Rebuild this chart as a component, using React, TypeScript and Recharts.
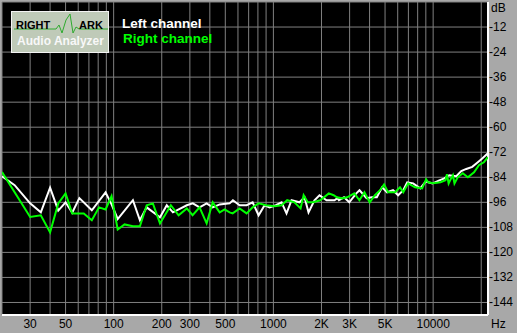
import React from 'react';
import { LineChart, Line, CartesianGrid, XAxis, YAxis, ReferenceLine } from 'recharts';

// frequency (Hz) / level (dB) pairs
const leftFreq = [20, 24, 30, 35, 40, 45, 50, 55, 61, 73, 89, 97, 106, 132, 146, 161, 195, 215, 235, 287, 313, 345, 382, 417, 461, 532, 558, 614, 680, 741, 808, 881, 946, 1037, 1125, 1208, 1299, 1457, 1566, 1659, 1808, 1943, 2150, 2412, 2518, 2571, 2770, 2985, 3305, 3460, 3830, 4130, 4440, 4790, 5150, 5610, 6040, 6500, 6880, 7500, 8300, 9000, 9880, 10930, 11746, 12619, 13960, 15000, 16120, 17570, 18880, 20290, 22000];
const leftDb = [-83.5, -87.8, -96.5, -100.8, -89, -100, -96, -101, -94, -99.8, -91.2, -97, -104, -95, -104.6, -98.4, -103.2, -97.4, -100.8, -97.4, -96.5, -98.4, -96.5, -98.4, -97, -96.5, -95, -97.4, -97.4, -96, -102.2, -97.4, -98.4, -97.4, -96, -101.3, -95, -96, -93.6, -100.8, -95, -92.6, -95, -95, -94, -95, -93.6, -96, -91.7, -90.2, -94, -93.6, -93.6, -88.8, -91.2, -90.2, -92.6, -90.2, -86.4, -86.9, -89.3, -86, -87, -85.5, -84.5, -83, -83.5, -81, -80, -79, -77, -75, -72.5];

const rightFreq = [20, 30, 35, 40, 45, 50, 55, 65, 73, 81, 89, 97, 106, 117, 132, 146, 161, 176, 195, 228, 255, 287, 312, 345, 382, 417, 461, 495, 532, 556, 614, 680, 741, 808, 900, 1017, 1125, 1220, 1354, 1480, 1546, 1640, 1772, 1965, 2222, 2384, 2496, 2691, 2898, 3211, 3456, 3714, 4010, 4320, 4650, 4930, 5220, 5780, 6200, 6500, 6980, 7700, 8530, 9040, 9310, 10030, 11110, 11940, 12200, 12500, 12860, 13300, 13600, 14250, 15330, 16500, 18030, 19340, 20770, 22000];
const rightDb = [-81.5, -103, -102.2, -110.4, -96.5, -91.7, -101.3, -101.3, -104.6, -98.4, -99.4, -93, -109, -106.6, -107.5, -107.5, -97.4, -96.5, -106.1, -97.4, -102.2, -98.9, -102.2, -98.4, -106.1, -96, -100.8, -99.4, -100.8, -101.3, -98.9, -101.3, -98.4, -96.5, -97.4, -97.9, -97.4, -95, -96, -98.9, -92.6, -96, -96, -95, -91.7, -92.6, -93.6, -94.1, -93.6, -91.7, -95, -91.2, -96, -92.6, -90.2, -87.4, -91.2, -91.2, -88.8, -91.2, -86.9, -88.8, -89.3, -85, -86.4, -86.9, -86.4, -85.4, -82.5, -87, -85, -83, -87, -84, -82.1, -84, -81.6, -78.2, -76.8, -74.4];

const gridFreqs = [20, 30, 40, 50, 60, 70, 80, 90, 100, 200, 300, 400, 500, 600, 700, 800, 900, 1000, 2000, 3000, 4000, 5000, 6000, 7000, 8000, 9000, 10000, 20000, 22050];
const freqLabels: Record<number, string> = {
  30: '30', 50: '50', 100: '100', 200: '200', 300: '300', 500: '500',
  1000: '1000', 2000: '2K', 3000: '3K', 5000: '5K', 10000: '10000', 22050: 'Hz',
};
const dbTicks = [0, -12, -24, -36, -48, -60, -72, -84, -96, -108, -120, -132, -144];

const leftData = leftFreq.map((f, i) => ({ f, db: leftDb[i] }));
const rightData = rightFreq.map((f, i) => ({ f, db: rightDb[i] }));

const FONT = '"Liberation Sans", Arial, sans-serif';

const XTick = (props: any) => {
  const v = props.payload.value;
  const label = freqLabels[v];
  if (!label) return null;
  if (label === 'Hz') {
    return <text x={491} y={328} fontSize={12} fontFamily={FONT} fill="#000">Hz</text>;
  }
  return (
    <text x={props.x} y={328} textAnchor="middle" fontSize={12} fontFamily={FONT} fill="#000">
      {label}
    </text>
  );
};

const YTick = (props: any) => {
  const v = props.payload.value;
  if (v === 0) {
    return <text x={491} y={12} fontSize={12} fontFamily={FONT} fill="#000">dB</text>;
  }
  return (
    <text x={489} y={props.y + 4} fontSize={12} fontFamily={FONT} fill="#000">{v}</text>
  );
};

export default function App() {
  return (
    <div style={{ position: 'absolute', left: 0, top: 0, width: 517, height: 333, background: '#a8a8a8' }}>
      <LineChart width={517} height={333} margin={{ top: 2, left: 2, right: 0, bottom: 0 }}>
        <CartesianGrid stroke="#808080" fill="#000" strokeWidth={1} />
        <XAxis
          dataKey="f"
          type="number"
          scale="log"
          domain={[20, 22050]}
          allowDataOverflow
          ticks={gridFreqs}
          interval={0}
          height={18}
          axisLine={false}
          tickLine={false}
          tick={<XTick />}
        />
        <YAxis
          orientation="right"
          type="number"
          domain={[-150, 0]}
          allowDataOverflow
          ticks={dbTicks}
          interval={0}
          width={29}
          axisLine={false}
          tickLine={false}
          tick={<YTick />}
        />
        <ReferenceLine y={-150} stroke="#fff" strokeWidth={2} />
        <ReferenceLine x={22050} stroke="#fff" strokeWidth={2} />
        <Line data={leftData} dataKey="db" type="linear" stroke="#ffffff" strokeWidth={2} dot={false} isAnimationActive={false} />
        <Line data={rightData} dataKey="db" type="linear" stroke="#00ff00" strokeWidth={2} dot={false} isAnimationActive={false} />
      </LineChart>

      <div style={{ position: 'absolute', left: 11, top: 11, width: 96, height: 40, background: '#bfcab8', border: '1px solid #f4f4f4' }}>
        <svg width={96} height={40} style={{ position: 'absolute', left: 0, top: 0 }}>
          <polyline
            points="2,17 44,17 47,13 50,21 54,8 58,2 61,21 64,15 67,17 96,17"
            fill="none"
            stroke="#2eaa2e"
            strokeWidth={1}
          />
          <text x={4} y={17} fontFamily={FONT} fontWeight="bold" fontSize={11} fill="#000">RIGHT</text>
          <text x={67} y={17} fontFamily={FONT} fontWeight="bold" fontSize={11} fill="#000">ARK</text>
          <text x={5} y={33} fontFamily={FONT} fontWeight="bold" fontSize={12} fill="#f8f8f8">Audio Analyzer</text>
        </svg>
      </div>

      <div style={{ position: 'absolute', left: 122, top: 16, fontFamily: FONT, fontWeight: 'bold', fontSize: 13.5, lineHeight: '15px', color: '#fff' }}>
        Left channel
      </div>
      <div style={{ position: 'absolute', left: 123, top: 31, fontFamily: FONT, fontWeight: 'bold', fontSize: 13.5, lineHeight: '15px', color: '#00ff00' }}>
        Right channel
      </div>
    </div>
  );
}
